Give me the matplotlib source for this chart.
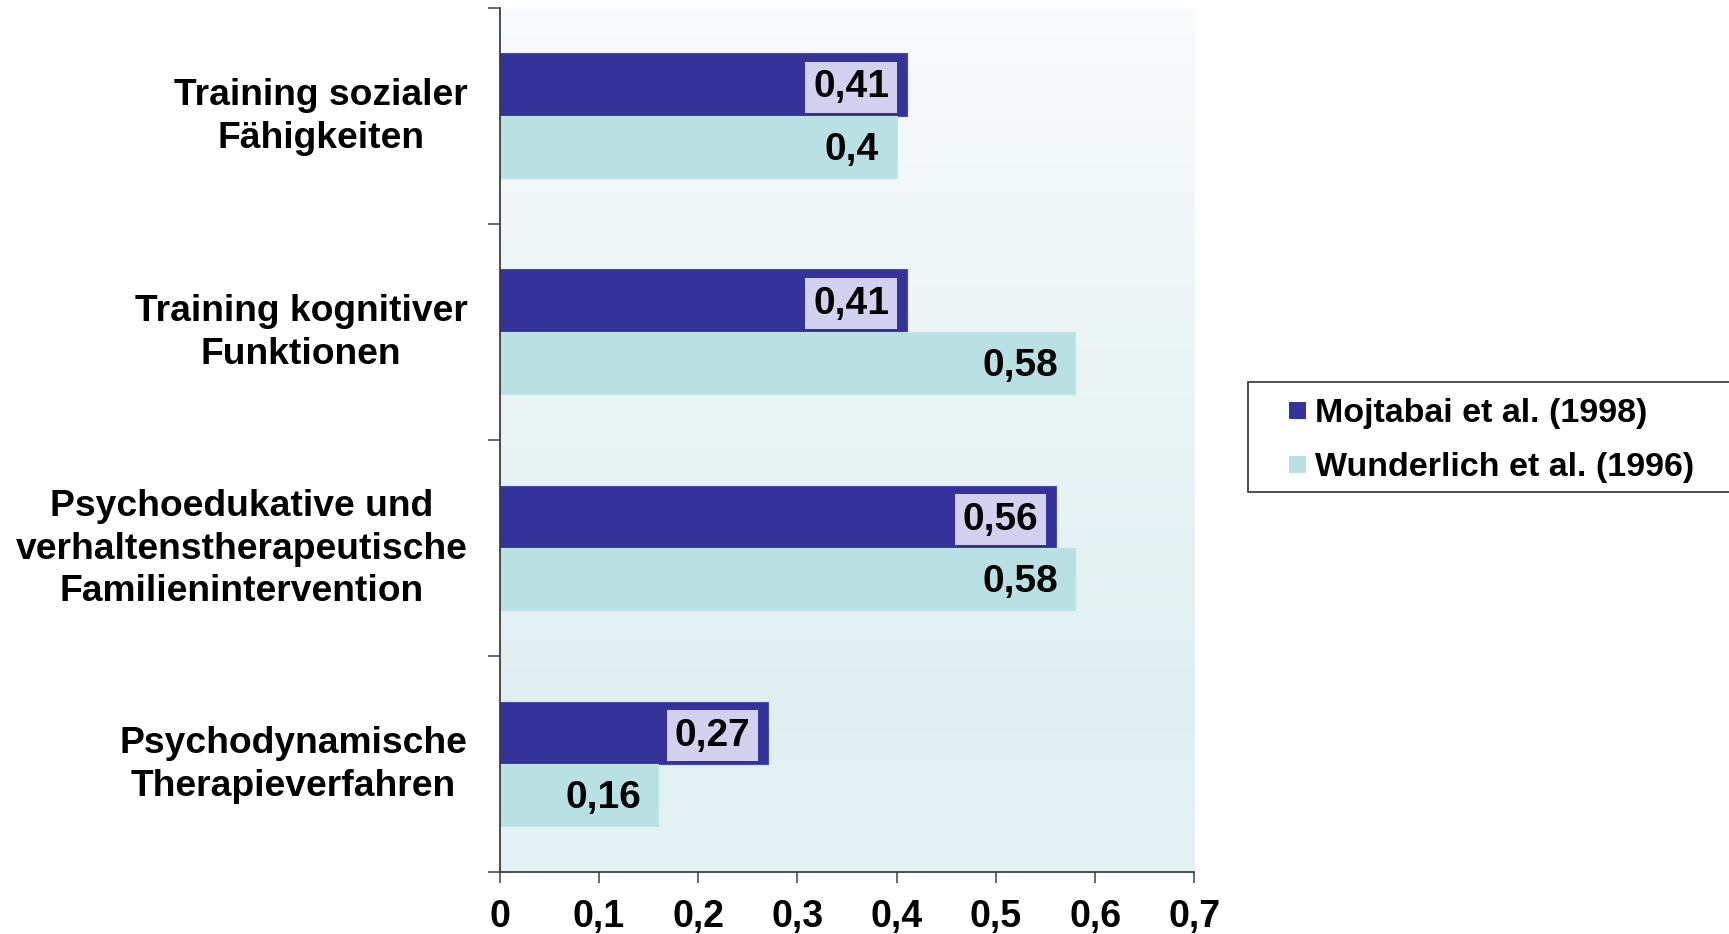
import numpy as np
import matplotlib
matplotlib.use("Agg")
import matplotlib.pyplot as plt
import matplotlib.transforms as mtransforms
from matplotlib.colors import LinearSegmentedColormap
from matplotlib.patches import Rectangle

plt.rcParams['font.family'] = ['Liberation Sans', 'DejaVu Sans']
plt.rcParams['font.weight'] = 'bold'

# Data
categories = [
    "Training sozialer\nFähigkeiten",
    "Training kognitiver\nFunktionen",
    "Psychoedukative und\nverhaltenstherapeutische\nFamilienintervention",
    "Psychodynamische\nTherapieverfahren",
]
mojtabai = [0.41, 0.41, 0.56, 0.27]
wunderlich = [0.40, 0.58, 0.58, 0.16]
series_names = ["Mojtabai et al. (1998)", "Wunderlich et al. (1996)"]
x_ticks = [0, 0.1, 0.2, 0.3, 0.4, 0.5, 0.6, 0.7]

def fmt(v):
    return f"{v:g}".replace(".", ",")

W, H, DPI = 1729, 934, 100
fig = plt.figure(figsize=(W / DPI, H / DPI), dpi=DPI)
fig.patch.set_facecolor("white")

ax_left, ax_right, ax_top, ax_bottom = 499.5, 1194.5, 7.5, 871.7
ax = fig.add_axes([ax_left / W, 1 - ax_bottom / H,
                   (ax_right - ax_left) / W, (ax_bottom - ax_top) / H])

dark = "#333399"
light = "#b9e0e3"
label_box = "#d2d2f0"

# vertical background gradient
bg = LinearSegmentedColormap.from_list(
    "bg", [(0.0, "#f9fbfd"), (0.45, "#eaf4f5"), (0.8, "#dfefef"), (1.0, "#e4f2f3")])
grad = np.linspace(0, 1, 256).reshape(-1, 1)
ax.imshow(grad, cmap=bg, extent=[0, 1, 0, 1], transform=ax.transAxes,
          aspect="auto", zorder=0, interpolation="bilinear")

n = len(categories)
ypos = np.arange(n)[::-1].astype(float)
h = 0.2875

b1 = ax.barh(ypos + h / 2, mojtabai, height=h, color=dark,
             edgecolor="#4a4aae", linewidth=0.8, zorder=2)
b2 = ax.barh(ypos - h / 2, wunderlich, height=h, color=light,
             edgecolor="#c4e5e8", linewidth=0.8, zorder=2)

for y, v in zip(ypos + h / 2, mojtabai):
    ax.annotate(fmt(v), xy=(v, y), xytext=(-17.5, -3), textcoords="offset pixels",
                ha="right", va="center", fontsize=28, fontweight="bold",
                color="black", zorder=4,
                bbox=dict(boxstyle="square,pad=0.2", facecolor=label_box,
                          edgecolor="none"))
for y, v in zip(ypos - h / 2, wunderlich):
    ax.annotate(fmt(v), xy=(v, y), xytext=(-17.5, -3), textcoords="offset pixels",
                ha="right", va="center", fontsize=28, fontweight="bold",
                color="black", zorder=4)

ax.set_xlim(0, 0.7)
ax.set_ylim(-0.5, n - 0.5)

ax.set_xticks(x_ticks)
ax.set_xticklabels([fmt(t) for t in x_ticks], fontsize=27, fontweight="bold")
ax.tick_params(axis="x", direction="out", length=8, width=1.2, color="#505050",
               pad=12)

# category separators as major ticks, names as minor ticks
ax.set_yticks(np.arange(-0.5, n, 1.0))
ax.set_yticklabels([])
ax.set_yticks(ypos, minor=True)
ax.set_yticklabels(categories, minor=True, fontsize=26.8, fontweight="bold",
                   multialignment="center", linespacing=1.29)
ax.tick_params(axis="y", which="major", direction="out", length=8.5, width=1.2,
               color="#505050")
ax.tick_params(axis="y", which="minor", length=0, pad=23)
lift = mtransforms.ScaledTranslation(0, 6.5 / DPI, fig.dpi_scale_trans)
for lbl in ax.get_yticklabels(minor=True):
    lbl.set_transform(lbl.get_transform() + lift)

for side in ("top", "right"):
    ax.spines[side].set_visible(False)
for side in ("left", "bottom"):
    ax.spines[side].set_color("#303030")
    ax.spines[side].set_linewidth(1.2)
    ax.spines[side].set_zorder(5)

# legend box
lx0, ly0, lx1, ly1 = 1248, 382, 1745, 492
fig.patches.append(Rectangle((lx0 / W, 1 - ly1 / H), (lx1 - lx0) / W,
                             (ly1 - ly0) / H, transform=fig.transFigure,
                             facecolor="white", edgecolor="#303030",
                             linewidth=1.2, zorder=1))
rows = [410, 464]
for name, col, ry in zip(series_names, [dark, light], rows):
    fig.patches.append(Rectangle((1289 / W, 1 - (ry + 8.5) / H), 17 / W, 17 / H,
                                 transform=fig.transFigure, facecolor=col,
                                 edgecolor="none", zorder=2))
    fig.text(1315 / W, 1 - ry / H, name, ha="left", va="center_baseline",
             fontsize=24.5, fontweight="bold", zorder=3)

fig.savefig("out.png", dpi=DPI)
